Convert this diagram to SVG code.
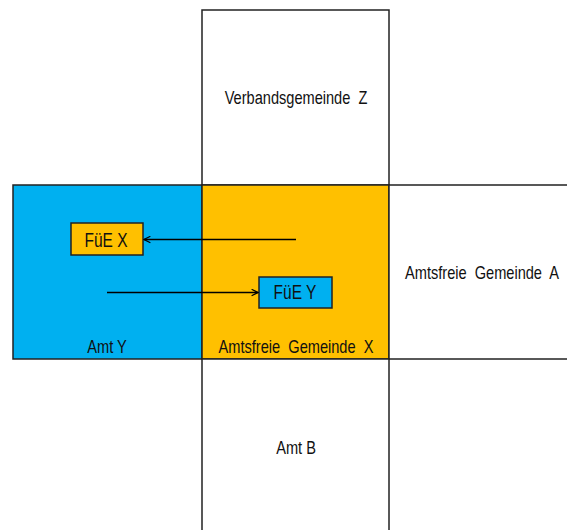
<svg xmlns="http://www.w3.org/2000/svg" width="567" height="530" viewBox="0 0 567 530">
<defs>
<style>
.box{stroke:#222;stroke-width:1.5}
.t{font-family:"Liberation Sans",Arial,sans-serif;font-size:14.6px;fill:#111;white-space:pre;text-anchor:middle}
.f{font-size:15.5px}
.c{stroke:#000;stroke-width:1.5;fill:none}
</style>
<marker id="ah" viewBox="0 0 10 10" refX="9" refY="5" markerWidth="8" markerHeight="8" markerUnits="userSpaceOnUse" orient="auto">
<path d="M1,1 L9,5 L1,9" fill="none" stroke="#000" stroke-width="1.5"/>
</marker>
</defs>
<rect width="567" height="530" fill="#fff"/>
<g id="verbandsgemeinde-z">
<rect class="box" x="202" y="10" width="187" height="175" fill="#fff"/>
<text class="t" transform="translate(296,104) scale(1,1.28)">Verbandsgemeinde  Z</text>
</g>
<g id="amt-y">
<rect class="box" x="13" y="185" width="189" height="174" fill="#00B0F0"/>
<text class="t" transform="translate(107,353) scale(1,1.28)">Amt Y</text>
</g>
<g id="amtsfreie-gemeinde-x">
<rect class="box" x="202" y="185" width="187" height="174" fill="#FFC000"/>
<text class="t" transform="translate(296,353) scale(1,1.28)">Amtsfreie  Gemeinde  X</text>
</g>
<g id="amtsfreie-gemeinde-a">
<rect class="box" x="389" y="185" width="185" height="174" fill="#fff"/>
<text class="t" transform="translate(482,279) scale(1,1.28)">Amtsfreie  Gemeinde  A</text>
</g>
<g id="amt-b">
<rect class="box" x="202" y="359" width="187" height="180" fill="#fff"/>
<text class="t" transform="translate(296,454) scale(1,1.28)">Amt B</text>
</g>
<g id="fue-x">
<rect class="box" x="71" y="223" width="72" height="32" fill="#FFC000"/>
<text class="t f" transform="translate(106,247) scale(1,1.25)">FüE X</text>
</g>
<g id="fue-y">
<rect class="box" x="259" y="277" width="73" height="31" fill="#00B0F0"/>
<text class="t f" transform="translate(295,299) scale(1,1.25)">FüE Y</text>
</g>
<g id="connectors">
<line class="c" x1="296" y1="239.5" x2="144" y2="239.5" marker-end="url(#ah)"/>
<line class="c" x1="107" y1="292.5" x2="258" y2="292.5" marker-end="url(#ah)"/>
</g>
</svg>
